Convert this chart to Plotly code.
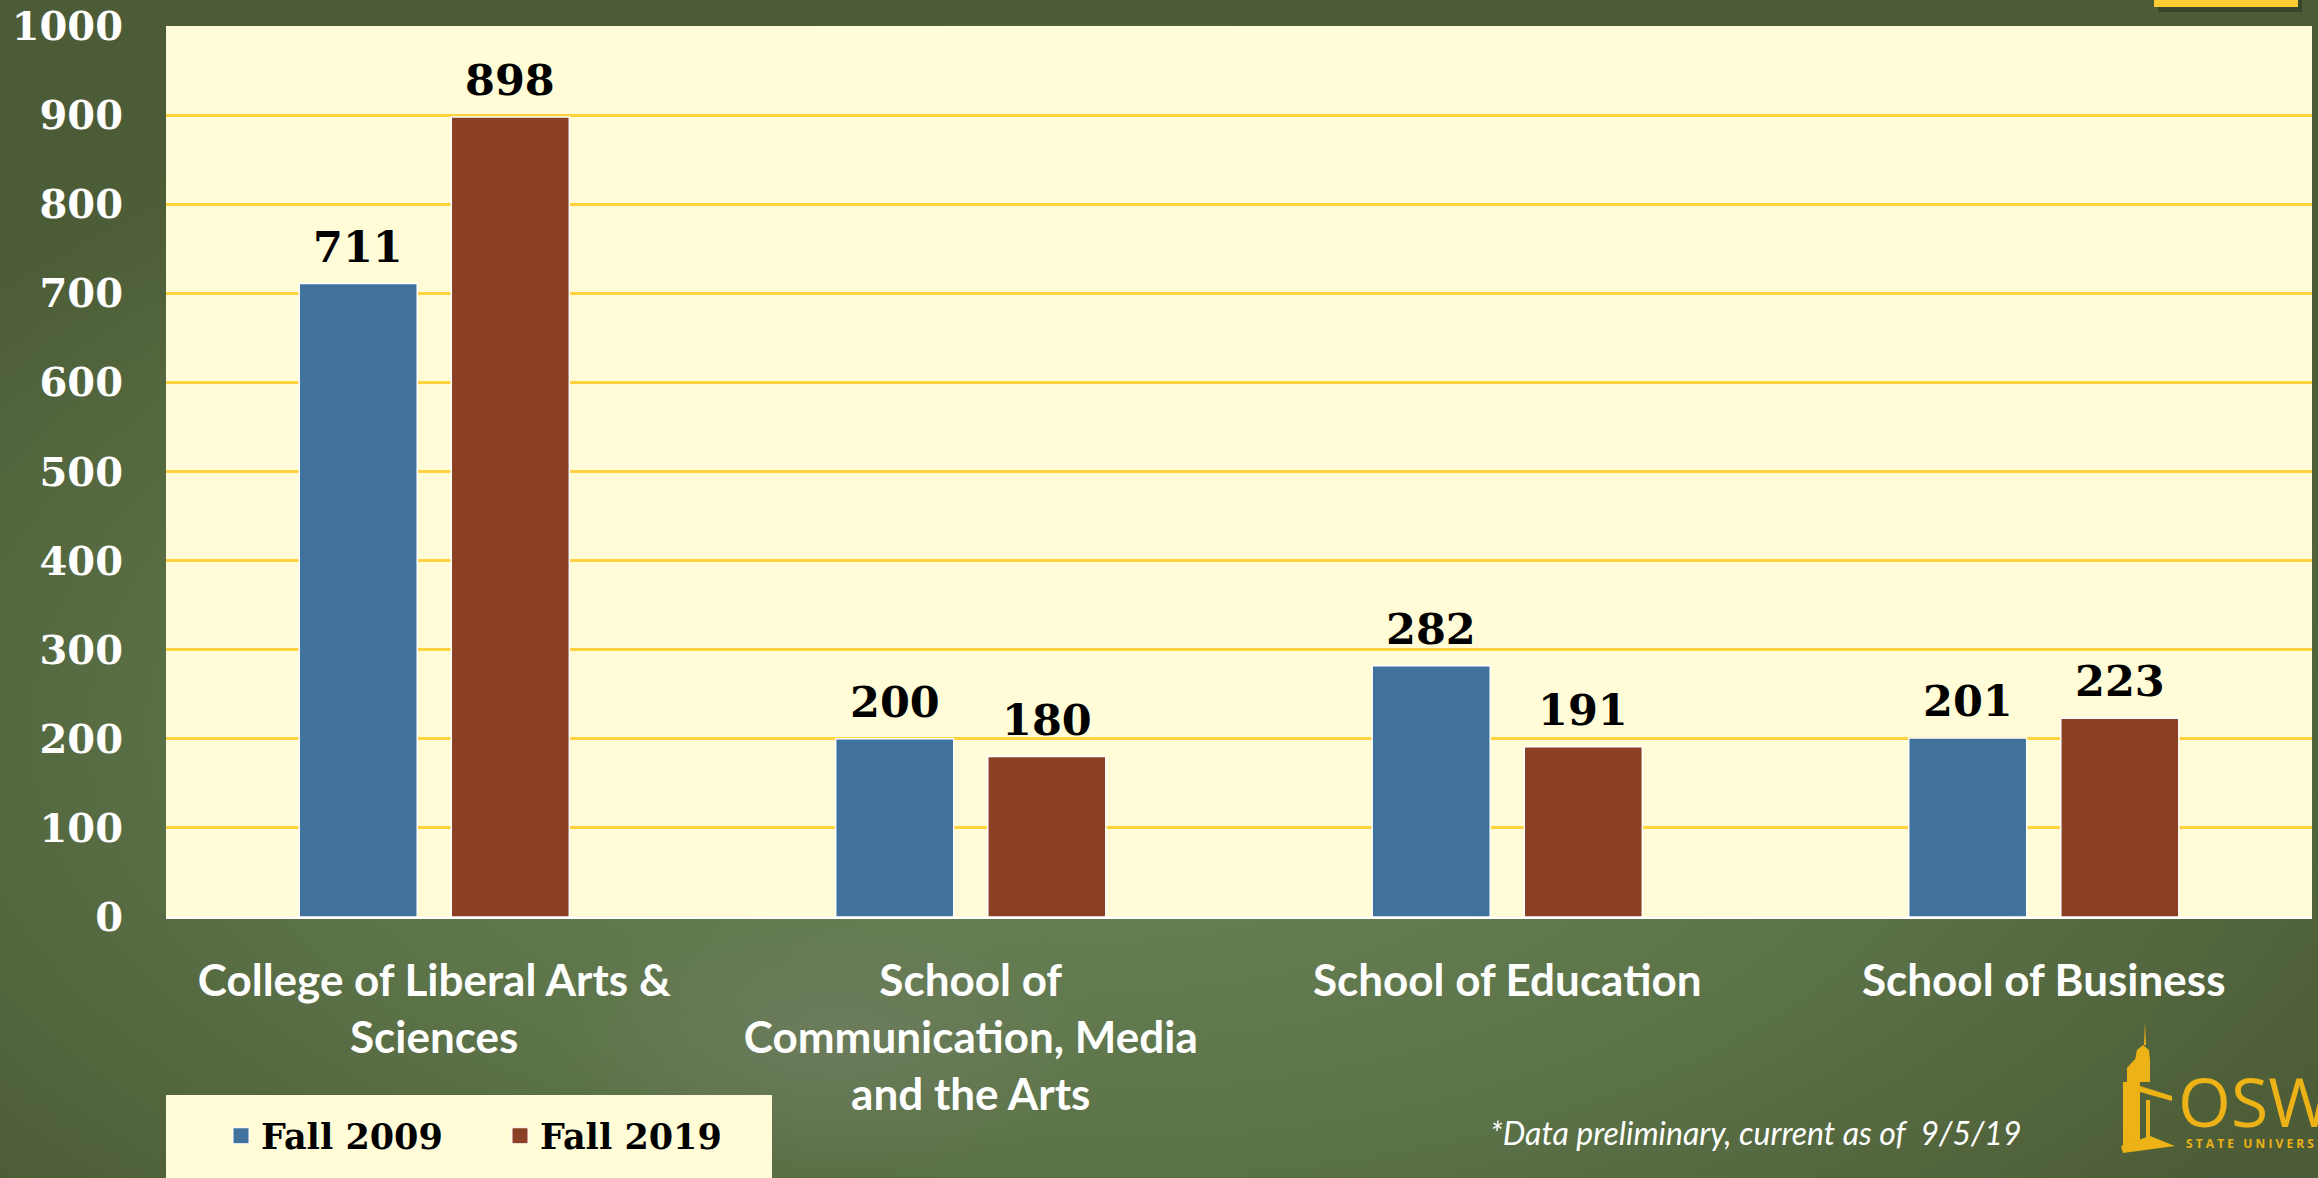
import base64
import plotly.graph_objects as go

# ---------------- data ----------------
categories = [
    "College of Liberal Arts &<br>Sciences",
    "School of<br>Communication, Media<br>and the Arts",
    "School of Education",
    "School of Business",
]
fall_2009 = [711, 200, 282, 201]
fall_2019 = [898, 180, 191, 223]
y_ticks = [0, 100, 200, 300, 400, 500, 600, 700, 800, 900, 1000]
series_names = ["Fall 2009", "Fall 2019"]
footnote = "*Data preliminary, current as of  9/5/19"

# ---------------- style ----------------
W, H = 2318, 1178
ML, MR, MT, MB = 166, 6, 26, 261
PW, PH = W - ML - MR, H - MT - MB
BLUE = "#41729B"
BROWN = "#8B4024"
CREAM = "#FFFCD7"
GRID = "#FFD23E"
GOLD = "#ECB216"
BARGAP = 0.433
GROUPGAP = 0.224


def px(x):
    return (x - ML) / PW


def py(y):
    return (H - MB - y) / PH


grad_svg = (
    "<svg xmlns='http://www.w3.org/2000/svg' width='2318' height='1178'>"
    "<defs><radialGradient id='g' cx='0.47' cy='0.62' r='0.62'>"
    "<stop offset='0' stop-color='#6a8558'/>"
    "<stop offset='0.55' stop-color='#5d7449'/>"
    "<stop offset='1' stop-color='#4c5c36'/>"
    "</radialGradient>"
    "<radialGradient id='h' cx='0.36' cy='0.88' r='0.12'>"
    "<stop offset='0' stop-color='#7a8270' stop-opacity='0.45'/>"
    "<stop offset='1' stop-color='#7a8270' stop-opacity='0'/>"
    "</radialGradient></defs>"
    "<rect width='100%' height='100%' fill='url(#g)'/>"
    "<rect width='100%' height='100%' fill='url(#h)'/>"
    "</svg>"
)
grad_uri = "data:image/svg+xml;base64," + base64.b64encode(grad_svg.encode()).decode()

fig = go.Figure()
xs = list(range(len(categories)))
colors = [BLUE, BROWN]
for name, vals, col in zip(series_names, (fall_2009, fall_2019), colors):
    fig.add_trace(go.Bar(x=xs, y=vals, name=name, showlegend=False,
                         marker=dict(color=col, line=dict(color="white", width=1.5))))
# legend entries with larger square swatches
for name, col in zip(series_names, colors):
    fig.add_trace(go.Scatter(x=[None], y=[None], name=name, mode="markers",
                             marker=dict(symbol="square", size=16, color=col,
                                         line=dict(color="white", width=1))))

# value labels above bars
slot = (1 - BARGAP) / 2
annotations = []
for vals, off in ((fall_2009, -slot / 2), (fall_2019, slot / 2)):
    for i, v in enumerate(vals):
        annotations.append(dict(
            x=i + off, y=v, xref="x", yref="y", text=str(v), showarrow=False,
            yanchor="bottom", yshift=10,
            font=dict(family="DejaVu Serif", size=43, color="black", weight="bold"),
        ))

annotations.append(dict(
    x=px(1488), y=py(1132), xref="paper", yref="paper", xanchor="left", yanchor="middle",
    text=footnote, showarrow=False,
    font=dict(family="Lato", size=32, color="white", style="italic"),
))
annotations.append(dict(
    x=px(2176), y=py(1100), xref="paper", yref="paper", xanchor="left", yanchor="middle",
    text="OSWEGO", showarrow=False, height=62, valign="middle",
    font=dict(family="Open Sans", size=68, color=GOLD),
))
annotations.append(dict(
    x=px(2184), y=py(1143), xref="paper", yref="paper", xanchor="left", yanchor="middle",
    text="S T A T E   U N I V E R S I T Y", showarrow=False,
    font=dict(family="Open Sans", size=12, color=GOLD, weight="bold"),
))

shapes = [
    # plot area background
    dict(type="rect", xref="paper", yref="paper", x0=0, x1=1, y0=0, y1=1,
         fillcolor=CREAM, line=dict(width=0), layer="below"),
    # legend background
    dict(type="rect", xref="paper", yref="paper", x0=px(166), x1=px(772),
         y0=py(1180), y1=py(1095), fillcolor=CREAM, line=dict(width=0), layer="below"),
    # gold tab top right (shadow + tab)
    dict(type="rect", xref="paper", yref="paper", x0=px(2158), x1=px(2302),
         y0=py(12), y1=py(-5), fillcolor="rgba(0,0,0,0.25)", line=dict(width=0), layer="below"),
    dict(type="rect", xref="paper", yref="paper", x0=px(2154), x1=px(2298),
         y0=py(7), y1=py(-5), fillcolor="#FFCC33", line=dict(width=0), layer="below"),
]


def poly(points):
    d = "M " + " L ".join(f"{px(x):.5f},{py(y):.5f}" for x, y in points) + " Z"
    return dict(type="path", xref="paper", yref="paper", path=d,
                fillcolor=GOLD, line=dict(width=0), layer="above")


# simplified tower emblem
shapes += [
    poly([(2123, 1082), (2140, 1082), (2140, 1146), (2123, 1146)]),
    poly([(2127, 1068), (2134, 1060), (2150, 1060), (2150, 1082), (2127, 1082)]),
    poly([(2140, 1086), (2172, 1096), (2172, 1101), (2140, 1092)]),
    poly([(2121, 1146), (2150, 1136), (2175, 1146), (2123, 1153)]),
    poly([(2135, 1060), (2137, 1050), (2143, 1045), (2149, 1050), (2150, 1060)]),
    poly([(2144, 1045), (2145, 1022), (2146, 1045)]),
    poly([(2146, 1100), (2150, 1100), (2150, 1140), (2146, 1140)]),
]

fig.update_layout(
    width=W, height=H, autosize=False,
    margin=dict(l=ML, r=MR, t=MT, b=MB, pad=0, autoexpand=False),
    paper_bgcolor="#52643d", plot_bgcolor="rgba(0,0,0,0)",
    barmode="group", bargap=BARGAP, bargroupgap=GROUPGAP,
    showlegend=True,
    legend=dict(orientation="h", x=px(221), y=py(1136), xanchor="left", yanchor="middle",
                bgcolor="rgba(0,0,0,0)", entrywidth=234, itemsizing="trace",
                font=dict(family="DejaVu Serif", size=35, color="black", weight="bold")),
    images=[dict(source=grad_uri, xref="paper", yref="paper", x=px(0), y=py(0),
                 sizex=W / PW, sizey=H / PH, sizing="stretch",
                 xanchor="left", yanchor="top", layer="below")],
    shapes=shapes,
    annotations=annotations,
)
fig.update_xaxes(
    tickmode="array", tickvals=xs, ticktext=categories, range=[-0.5, len(categories) - 0.5],
    showline=True, linecolor="white", linewidth=2, showgrid=False, zeroline=False,
    ticks="outside", ticklen=24, tickcolor="rgba(0,0,0,0)", automargin=False,
    tickfont=dict(family="Lato", size=44, color="white", weight="bold"), tickangle=0,
)
fig.update_yaxes(
    range=[0, 1000], tickmode="array", tickvals=y_ticks, automargin=False,
    showgrid=True, gridcolor=GRID, gridwidth=2.5, zeroline=False, showline=False,
    ticks="outside", ticklen=34, tickcolor="rgba(0,0,0,0)",
    tickfont=dict(family="DejaVu Serif", size=40, color="white", weight="bold"),
)

fig.write_html(
    "out.html",
    config={"displayModeBar": False},
    post_script="document.body.style.margin='0';document.body.style.overflow='hidden';",
)
